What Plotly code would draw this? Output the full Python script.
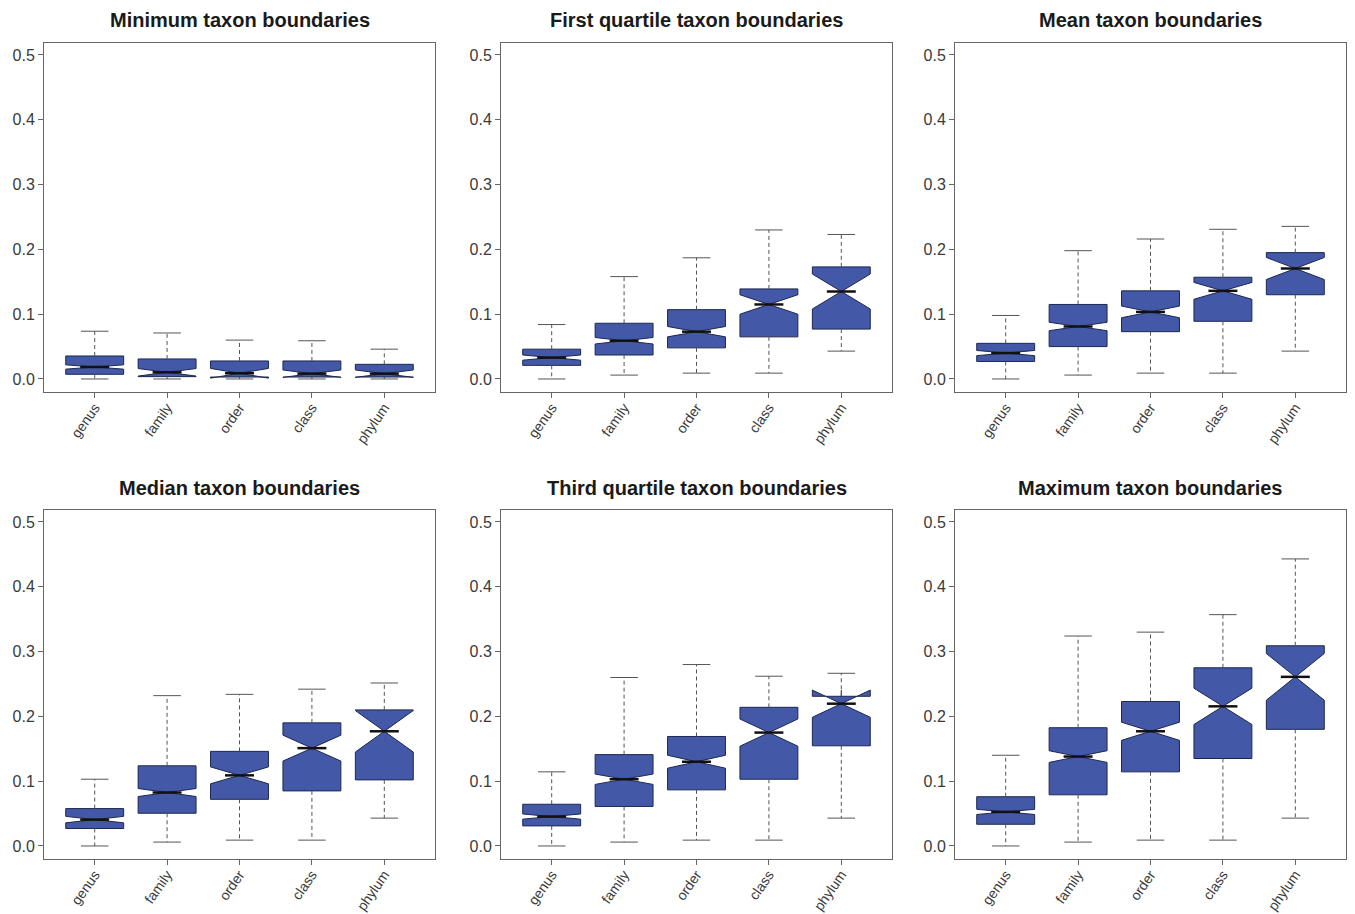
import plotly.graph_objects as go

categories = ["genus", "family", "order", "class", "phylum"]
panel_titles = [
    "Minimum taxon boundaries",
    "First quartile taxon boundaries",
    "Mean taxon boundaries",
    "Median taxon boundaries",
    "Third quartile taxon boundaries",
    "Maximum taxon boundaries",
]

# one row per panel, one value per category
lower_whisker = [
    [0.000, 0.000, 0.000, 0.000, 0.000],
    [0.000, 0.006, 0.009, 0.009, 0.043],
    [0.000, 0.006, 0.009, 0.009, 0.043],
    [0.000, 0.006, 0.009, 0.009, 0.043],
    [0.000, 0.006, 0.009, 0.009, 0.043],
    [0.000, 0.006, 0.009, 0.009, 0.043],
]
q1_values = [
    [0.0072, 0.0036, 0.0030, 0.0030, 0.0030],
    [0.021, 0.037, 0.048, 0.065, 0.077],
    [0.027, 0.050, 0.073, 0.089, 0.130],
    [0.027, 0.0505, 0.072, 0.085, 0.102],
    [0.031, 0.061, 0.0866, 0.103, 0.1546],
    [0.0335, 0.079, 0.1144, 0.135, 0.180],
]
median_values = [
    [0.0185, 0.0103, 0.0088, 0.0082, 0.0082],
    [0.033, 0.059, 0.073, 0.115, 0.135],
    [0.040, 0.081, 0.1035, 0.136, 0.1705],
    [0.0407, 0.0825, 0.109, 0.151, 0.177],
    [0.0454, 0.103, 0.130, 0.175, 0.2196],
    [0.0526, 0.138, 0.177, 0.2155, 0.261],
]
q3_values = [
    [0.0355, 0.0309, 0.0278, 0.0278, 0.0226],
    [0.046, 0.086, 0.107, 0.139, 0.173],
    [0.055, 0.115, 0.136, 0.157, 0.195],
    [0.0577, 0.1237, 0.146, 0.190, 0.210],
    [0.0644, 0.141, 0.169, 0.214, 0.231],
    [0.076, 0.1825, 0.223, 0.275, 0.309],
]
upper_whisker = [
    [0.0737, 0.071, 0.060, 0.059, 0.046],
    [0.084, 0.158, 0.187, 0.230, 0.223],
    [0.098, 0.198, 0.216, 0.231, 0.2355],
    [0.103, 0.232, 0.234, 0.242, 0.2515],
    [0.1144, 0.260, 0.280, 0.262, 0.2665],
    [0.140, 0.324, 0.330, 0.357, 0.443],
]
notch_halfspan = [
    [0.0033, 0.0058, 0.0075, 0.0057, 0.0057],
    [0.004, 0.005, 0.008, 0.015, 0.027],
    [0.004, 0.0065, 0.009, 0.013, 0.017],
    [0.005, 0.0062, 0.013, 0.020, 0.032],
    [0.004, 0.008, 0.010, 0.021, 0.021],
    [0.004, 0.009, 0.014, 0.028, 0.036],
]

FILL = "#4359A8"
EDGE = "#1E2750"
FRAME = "#666666"
WHISK = "#555555"
FONT = "Liberation Sans, Arial, Helvetica, sans-serif"

W, H = 1355, 914
col_px = [(44, 435), (501, 892), (955, 1346)]
row_px = [(43, 392), (510, 859)]
title_y_px = [20.5, 487.5]

fig = go.Figure()
positions = list(range(1, len(categories) + 1))
box_width = 0.8
cap_half = 0.19
med_half = 0.2

for p in range(6):
    r, c = divmod(p, 3)
    n = p + 1
    xa = "x" if n == 1 else f"x{n}"
    ya = "y" if n == 1 else f"y{n}"

    wx, wy, cx, cy = [], [], [], []
    for i, pos in enumerate(positions):
        wx += [pos, pos, None, pos, pos, None]
        wy += [q3_values[p][i], upper_whisker[p][i], None,
               q1_values[p][i], lower_whisker[p][i], None]
        cx += [pos - cap_half, pos + cap_half, None, pos - cap_half, pos + cap_half, None]
        cy += [upper_whisker[p][i], upper_whisker[p][i], None,
               lower_whisker[p][i], lower_whisker[p][i], None]

    fig.add_trace(go.Box(
        x=positions,
        q1=q1_values[p], median=median_values[p], q3=q3_values[p],
        lowerfence=q1_values[p], upperfence=q3_values[p],
        notched=True, notchspan=notch_halfspan[p], notchwidth=0.5,
        width=box_width, whiskerwidth=0,
        fillcolor=FILL, line=dict(color=EDGE, width=1),
        boxpoints=False, hoverinfo="skip", showlegend=False,
        xaxis=xa, yaxis=ya,
    ))
    fig.add_trace(go.Scatter(
        x=wx, y=wy, mode="lines",
        line=dict(color=WHISK, width=1, dash="4px,3px"),
        hoverinfo="skip", showlegend=False, xaxis=xa, yaxis=ya,
    ))
    fig.add_trace(go.Scatter(
        x=cx, y=cy, mode="lines",
        line=dict(color=WHISK, width=1),
        hoverinfo="skip", showlegend=False, xaxis=xa, yaxis=ya,
    ))
    mx, my = [], []
    for i, pos in enumerate(positions):
        mx += [pos - med_half, pos + med_half, None]
        my += [median_values[p][i], median_values[p][i], None]
    fig.add_trace(go.Scatter(
        x=mx, y=my, mode="lines",
        line=dict(color="#111111", width=2.5),
        hoverinfo="skip", showlegend=False, xaxis=xa, yaxis=ya,
    ))

    x0, x1 = col_px[c]
    y0, y1 = row_px[r]
    xdom = [x0 / W, x1 / W]
    ydom = [1 - y1 / H, 1 - y0 / H]
    key_x = "xaxis" if n == 1 else f"xaxis{n}"
    key_y = "yaxis" if n == 1 else f"yaxis{n}"
    fig.update_layout(**{
        key_x: dict(
            domain=xdom, anchor=ya, range=[0.3, 5.7],
            tickmode="array", tickvals=positions, ticktext=categories,
            tickangle=-55, ticks="outside", ticklen=5, tickcolor=FRAME,
            ticklabelstandoff=-4,
            showline=True, linecolor=FRAME, linewidth=1, mirror=True,
            showgrid=False, zeroline=False,
            tickfont=dict(family=FONT, size=14, color="#3A3A3A"),
        ),
        key_y: dict(
            domain=ydom, anchor=xa, range=[-0.0201, 0.5185],
            tickmode="array", tickvals=[0, 0.1, 0.2, 0.3, 0.4, 0.5],
            ticktext=["0.0", "0.1", "0.2", "0.3", "0.4", "0.5"],
            ticks="outside", ticklen=5, tickcolor=FRAME,
            showline=True, linecolor=FRAME, linewidth=1, mirror=True,
            showgrid=False, zeroline=False,
            tickfont=dict(family=FONT, size=16, color="#3A3A3A"),
        ),
    })
    fig.add_annotation(
        text=f"<b>{panel_titles[p]}</b>", xref="paper", yref="paper",
        x=(xdom[0] + xdom[1]) / 2, y=1 - title_y_px[r] / H,
        xanchor="center", yanchor="middle", showarrow=False,
        font=dict(family=FONT, size=20, color="#1A1A1A"),
    )

fig.update_layout(
    width=W, height=H, margin=dict(l=0, r=0, t=0, b=0),
    paper_bgcolor="white", plot_bgcolor="white",
    font=dict(family=FONT), showlegend=False,
)

page_fix = (
    "document.documentElement.style.margin='0';"
    "document.body.style.margin='0';"
    "document.body.style.overflow='hidden';"
    "var gd=document.getElementById('{plot_id}');"
    "gd.style.overflow='hidden';"
)

fig.write_html("out.html", post_script=page_fix,
               config={"displayModeBar": False, "staticPlot": True})
